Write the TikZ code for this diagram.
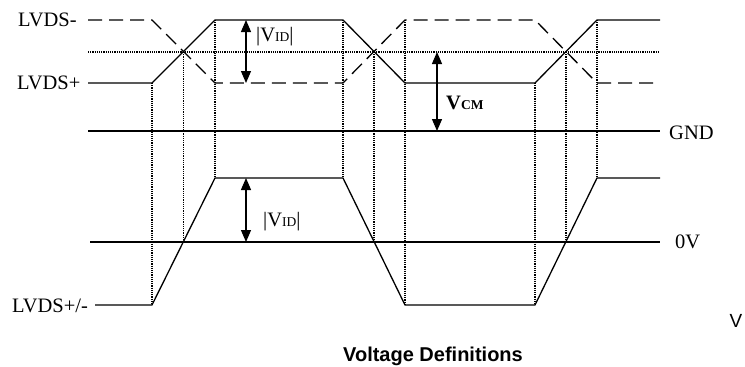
\documentclass[tikz,border=0pt]{standalone}
\usepackage{fontspec}
\setmainfont{Liberation Serif}
\setsansfont{Liberation Sans}
\usetikzlibrary{arrows.meta}
\newcommand{\smallsub}[1]{{\fontsize{13.5}{13.5}\selectfont #1}}
\begin{document}
\begin{tikzpicture}[x=1pt,y=-1pt,
  wave/.style={line width=1.3pt, line join=miter},
  dashwave/.style={line width=1.3pt, dash pattern=on 14pt off 7pt},
  guide/.style={line width=1.2pt, dash pattern=on 1.2pt off 1pt},
  lbl/.style={font=\fontsize{20.5}{20.5}\selectfont, inner sep=0pt, anchor=west},
  meas/.style={line width=1.3pt, {Triangle[width=10pt,length=12pt]}-{Triangle[width=10pt,length=12pt]}},
]
\useasboundingbox (0,0) rectangle (745,367);
\fill[white] (0,0) rectangle (745,367);

% reference levels
\draw[guide] (88,52) -- (660,52);
\draw[wave] (88,131) -- (660,131);
\draw[wave] (90,242) -- (660,242);

% vertical guides
\draw[guide] (152,83) -- (152,305);
\draw[guide] (183.5,52) -- (183.5,242);
\draw[guide] (215,20) -- (215,178);
\draw[guide] (343,20) -- (343,178);
\draw[guide] (374,52) -- (374,242);
\draw[guide] (405,20) -- (405,305);
\draw[guide] (535,83) -- (535,305);
\draw[guide] (566,52) -- (566,242);
\draw[guide] (597,20) -- (597,178);

% LVDS+ (solid) and LVDS- (dashed)
\draw[wave] (88,83) -- (152,83) -- (215,20) -- (343,20) -- (405,83) -- (535,83) -- (597,20) -- (660,20);
\draw[dashwave] (88,20) -- (152,20) -- (215,83) -- (343,83) -- (405,20) -- (535,20) -- (597,83) -- (660,83);

% differential
\draw[wave] (95,305) -- (152,305) -- (215,178) -- (343,178) -- (405,305) -- (535,305) -- (597,178) -- (660,178);

% labels
\node[lbl] (lm) at (18,20) {LVDS-};
\node[lbl] (lp) at (17,83) {LVDS+};
\node[lbl] (lpm) at (12,306) {LVDS+/-};
\node[lbl] (gnd) at (669,133) {GND};
\node[lbl] (zv) at (675,242) {0V};

% measurement arrows
\coordinate (a1t) at (246,20);
\coordinate (a1b) at (246,83);
\coordinate (a2t) at (246,178);
\coordinate (a2b) at (246,242);
\coordinate (a3t) at (437,52);
\coordinate (a3b) at (437,131);
\draw[meas] (a1t) -- (a1b);
\draw[meas] (a2t) -- (a2b);
\draw[meas] (a3t) -- (a3b);
\node[lbl] (vid1) at (256,37) {\textbar V\smallsub{ID}\textbar};
\node[lbl] (vid2) at (263,222) {\textbar V\smallsub{ID}\textbar};
\node[lbl] (vcm) at (446,103) {\textbf{V\smallsub{CM}}};

\node[font=\sffamily\fontsize{19}{19}\selectfont, inner sep=0pt] (vunit) at (736,321) {V};
\node[font=\sffamily\bfseries\fontsize{20}{20}\selectfont, inner sep=0pt] (title) at (433,356) {Voltage Definitions};
\end{tikzpicture}
\end{document}
